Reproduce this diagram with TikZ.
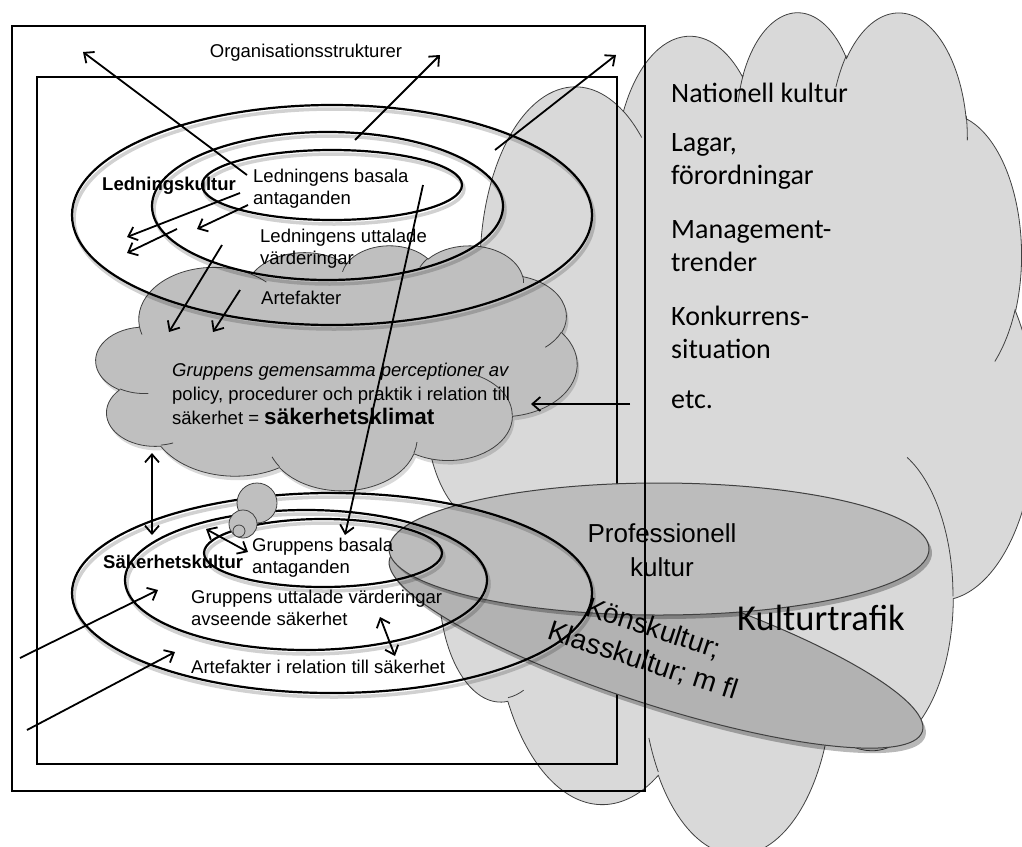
\documentclass[tikz,border=0pt]{standalone}
\usepackage{fontspec}
\setmainfont{Liberation Sans}
\newfontfamily\calib{Carlito}
\usetikzlibrary{arrows.meta,shapes.geometric}
\newcommand\mkarc[5]{%
  \pgfmathsetmacro\cldS{atan2((#2)*sin(#4),(#3)*cos(#4))}%
  \pgfmathsetmacro\cldE{atan2((#2)*sin((#4)+(#5)),(#3)*cos((#4)+(#5)))}%
  \pgfmathsetmacro\cldD{mod(\cldE-\cldS+720,360)}%
  \pgfmathsetmacro\cldE{\cldS+\cldD}%
  \expandafter\xdef\csname cldarc#1\endcsname{arc[start angle=\cldS,end angle=\cldE,x radius=#2,y radius=#3]}%
}
\mkarc{a}{67.53}{91.90}{-190.4875}{123.7805}
\mkarc{b}{53.33}{72.67}{-144.1024}{89.9452}
\mkarc{c}{43.65}{59.45}{-145.8079}{99.7230}
\mkarc{d}{48.57}{65.95}{-130.9861}{117.2417}
\mkarc{e}{53.33}{72.73}{-78.7089}{109.0269}
\mkarc{f}{67.75}{92.20}{-46.2673}{130.2690}
\mkarc{g}{57.85}{78.67}{0.6250}{114.0333}
\mkarc{h}{67.52}{92.15}{22.4516}{115.1726}
\mkarc{i}{77.20}{105.43}{66.2426}{75.7110}
\mkarc{j}{43.60}{59.18}{-274.9421}{146.7356}
\mkarc{k}{43.45}{59.45}{-246.8285}{152.5189}
\mkarc{A}{43.45}{59.45}{86.7420}{26.4295}
\mkarc{B}{43.60}{59.18}{73.6105}{11.4475}
\mkarc{C}{67.52}{92.15}{137.6242}{14.0811}
\mkarc{D}{67.52}{92.15}{6.4533}{15.9984}
\mkarc{E}{57.85}{78.67}{-70.2924}{70.9174}
\mkarc{F}{53.33}{72.73}{30.3180}{27.7515}
\mkarc{G}{48.57}{65.95}{-13.7443}{14.8589}
\mkarc{H}{48.57}{65.95}{-149.1815}{18.1954}
\mkarc{I}{43.65}{59.45}{-163.4943}{17.6864}
\mkarc{J}{67.53}{91.90}{-66.7070}{12.3194}
\mkarc{K}{67.53}{91.90}{157.6544}{11.8582}
\newcommand\cloudshape{(39.00,143.70) \cldarca \cldarcb \cldarcc \cldarcd \cldarce \cldarcf \cldarcg \cldarch \cldarci \cldarcj \cldarck -- cycle}
\newcommand\cloudinner{(46.93,261.77) \cldarcA (69.28,348.99) \cldarcB (164.78,390.90) \cldarcC (288.27,347.51) \cldarcD (341.29,229.54) \cldarcE (417.98,153.54) \cldarcF (383.24,54.26) \cldarcG (290.78,39.52) \cldarcH (221.41,47.20) \cldarcI (140.00,51.92) \cldarcJ (41.27,157.89) \cldarcK}
\definecolor{cloudlight}{HTML}{D9D9D9}
\definecolor{cloudmid}{HTML}{BFBFBF}
\definecolor{greyell}{HTML}{BCBCBC}
\definecolor{greyell2}{HTML}{B2B2B2}
\definecolor{edge}{HTML}{404040}
\begin{document}
\begin{tikzpicture}[x=1pt,y=-1pt,
  ell/.style={draw, ellipse, line width=2.2pt, inner sep=0pt},
  gell/.style={draw=edge, ellipse, line width=1pt, inner sep=0pt},
  frame/.style={draw, line width=2pt},
  shline/.style={draw=black, line width=3.5pt, opacity=0.18},
  shfill/.style={fill=black, opacity=0.28},
  arr/.style={line width=1.8pt, -{Straight Barb[length=8pt,width=14pt]}},
  darr/.style={line width=1.8pt, {Straight Barb[length=8pt,width=14pt]}-{Straight Barb[length=8pt,width=14pt]}},
  lbl/.style={font=\fontsize{18.5}{22}\selectfont, inner sep=0pt, align=left, anchor=west},
  blbl/.style={font=\fontsize{18.5}{22}\bfseries\selectfont, inner sep=0pt, anchor=west},
  rtxt/.style={font=\calib\fontsize{28}{33}\selectfont, inner sep=0pt, align=left, anchor=west},
  bubble/.style={circle, fill=cloudmid, draw=edge, line width=0.8pt, inner sep=0pt}]
\useasboundingbox (0,0) rectangle (1022,846);
% big cloud
\begin{scope}[shift={(426pt,-10pt)},x=1.40972pt,y=-1.94907pt]
  \path[fill=cloudlight, draw=edge, line width=0.8pt] \cloudshape;
  \path[draw=edge, line width=0.8pt] \cloudinner;
\end{scope}
% inner frame
\draw[frame] (37,77) rectangle (617,764);
% middle cloud (with soft shadow)
\begin{scope}[shift={(98pt,-249pt)},x=1.11343pt,y=-0.56713pt]
  \path[fill=black, opacity=0.15] \cloudshape;
\end{scope}
\begin{scope}[shift={(96pt,-245pt)},x=1.11343pt,y=-0.56713pt]
  \path[fill=cloudmid, draw=edge, line width=0.8pt] \cloudshape;
  \path[draw=edge, line width=0.8pt] \cloudinner;
\end{scope}
% upper ellipses
\draw[shline] (334,219) ellipse [x radius=260, y radius=110];
\draw[shline] (329.5,210) ellipse [x radius=175.5, y radius=74];
\draw[shline] (334,189) ellipse [x radius=130, y radius=35];
\node[ell, minimum width=520, minimum height=220] (Lout) at (332,215) {};
\node[ell, minimum width=351, minimum height=148] (Lmid) at (327.5,206) {};
\node[ell, minimum width=260, minimum height=70] (Lin) at (332,185) {};
% grey ellipses
\fill[shfill, rotate around={-18:(659,650)}] (659,650) ellipse [x radius=280, y radius=59];
\node[gell, fill=greyell2, minimum width=560, minimum height=118, rotate=-18] (Kons) at (656,645) {};
\fill[shfill] (662,553) ellipse [x radius=270, y radius=66];
\node[gell, fill=greyell, minimum width=540, minimum height=132] (Prof) at (659,549) {};
% lower ellipses
\draw[shline] (334,597) ellipse [x radius=260, y radius=100];
\draw[shline] (308,584) ellipse [x radius=181, y radius=70];
\draw[shline] (325,557) ellipse [x radius=119, y radius=34];
\node[ell, minimum width=520, minimum height=200] (Sout) at (332,593) {};
\node[ell, minimum width=362, minimum height=140] (Smid) at (306,580) {};
\node[ell, minimum width=238, minimum height=68] (Sin) at (323,553) {};
% thought bubbles
\node[bubble, minimum size=40] (b1) at (257,503) {};
\node[bubble, minimum size=28] (b2) at (243,524) {};
\node[bubble, minimum size=12] (b3) at (239,531) {};
% outer frame
\draw[frame] (12,26) rectangle (645,791);
% texts
\node[lbl, anchor=center] (org) at (306,53) {Organisationsstrukturer};
\node[blbl] (lk) at (102,186) {Ledningskultur};
\node[lbl] (lba) at (253,189) {Ledningens basala\\antaganden};
\node[lbl] (luv) at (260,249) {Ledningens uttalade\\värderingar};
\node[lbl] (lart) at (261,298) {Artefakter};
\node[lbl, font=\fontsize{18.5}{24}\selectfont] (klim) at (172,394) {\textit{Gruppens gemensamma perceptioner av}\\policy, procedurer och praktik i relation till\\säkerhet = {\fontsize{22.5}{24}\bfseries\selectfont säkerhetsklimat}};
\node[blbl] (sk) at (103,562) {Säkerhetskultur};
\node[lbl] (gba) at (252,558) {Gruppens basala\\antaganden};
\node[lbl] (guv) at (191,608) {Gruppens uttalade värderingar\\avseende säkerhet};
\node[lbl] (gart) at (191,667) {Artefakter i relation till säkerhet};
\node[rtxt] (nat) at (671,93) {Nationell kultur};
\node[rtxt] (lag) at (671,161) {Lagar,\\förordningar};
\node[rtxt] (man) at (671,246) {Management-\\trender};
\node[rtxt] (kon) at (671,332) {Konkurrens-\\situation};
\node[rtxt] (etc) at (671,400) {etc.};
\node[rtxt, font=\calib\fontsize{36.5}{40}\selectfont] (ktr) at (737,618) {Kulturtrafik};
\node[font=\fontsize{26}{34}\selectfont, align=center, inner sep=0pt] (proft) at (662,550) {Professionell\\kultur};
\node[font=\fontsize{28}{34}\selectfont, align=center, inner sep=0pt, rotate=-18] (konst) at (648,645) {Könskultur;\\Klasskultur; m fl};
% arrow end points
\coordinate (a1s) at (247,175); \coordinate (a1e) at (83,52);
\coordinate (a2s) at (355,140); \coordinate (a2e) at (440,55);
\coordinate (a3s) at (495,150); \coordinate (a3e) at (616,55);
\coordinate (a4s) at (240,193); \coordinate (a4e) at (127,237);
\coordinate (a5s) at (177,229); \coordinate (a5e) at (127,253);
\coordinate (a6s) at (248,205); \coordinate (a6e) at (197,229);
\coordinate (a7s) at (222,245); \coordinate (a7e) at (169,332);
\coordinate (a8s) at (240,290); \coordinate (a8e) at (213,332);
\coordinate (a9s) at (423,185); \coordinate (a9e) at (345,535);
\coordinate (a10s) at (630,404); \coordinate (a10e) at (531,404);
\coordinate (a11s) at (152,453); \coordinate (a11e) at (152,535);
\coordinate (a12s) at (206,529); \coordinate (a12e) at (248,552);
\coordinate (a13s) at (380,617); \coordinate (a13e) at (395,656);
\coordinate (a14s) at (20,658); \coordinate (a14e) at (158,590);
\coordinate (a15s) at (27,730); \coordinate (a15e) at (175,652);
\foreach \i in {1,...,10,14,15} \draw[arr] (a\i s) -- (a\i e);
\foreach \i in {11,12,13} \draw[darr] (a\i s) -- (a\i e);
\end{tikzpicture}
\end{document}
